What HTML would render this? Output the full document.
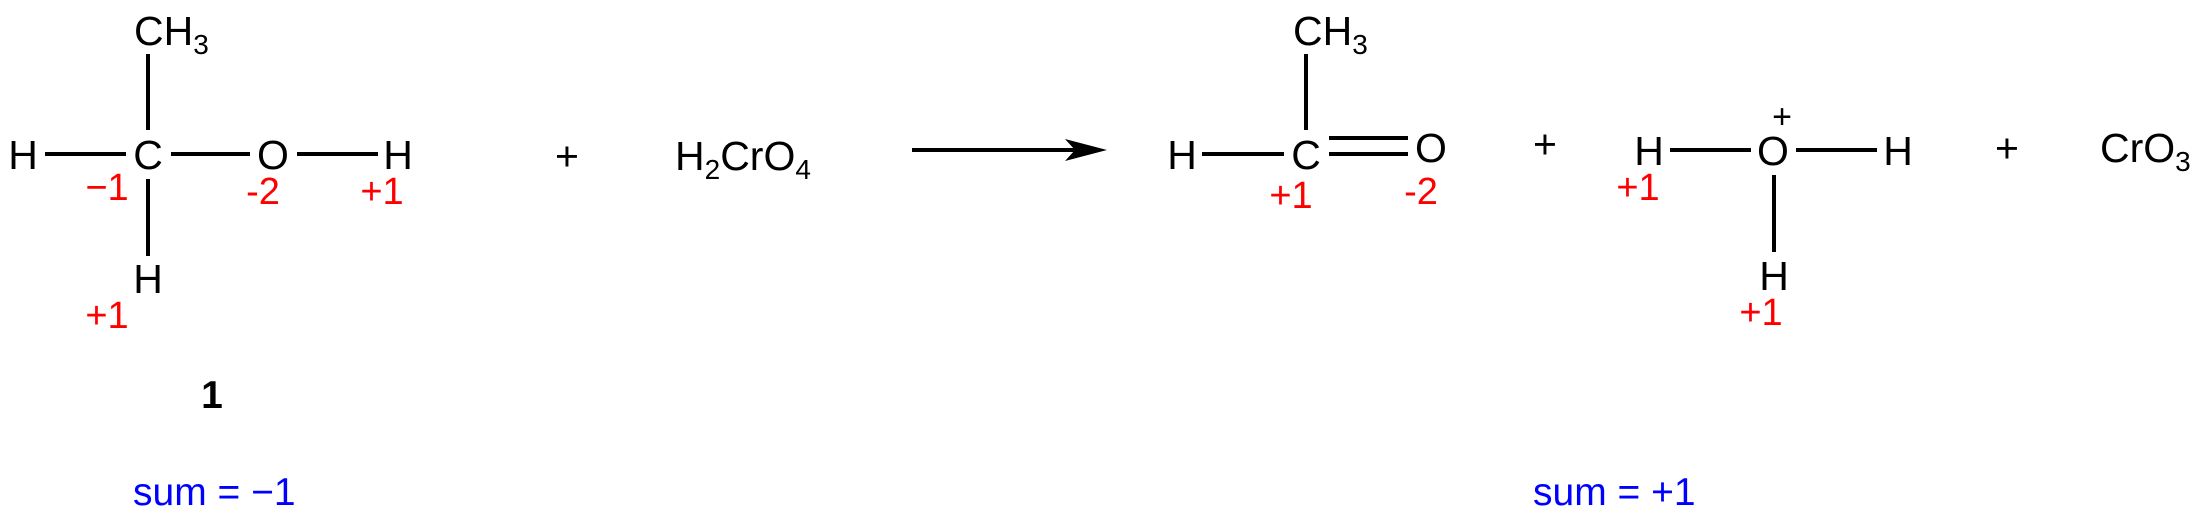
<!DOCTYPE html>
<html><head><style>html,body{margin:0;padding:0;background:#fff}svg{display:block}</style></head>
<body>
<svg width="2203" height="521" viewBox="0 0 2203 521" xmlns="http://www.w3.org/2000/svg" font-family="Liberation Sans, Arial, sans-serif">
<g stroke="#000" stroke-width="4" fill="none">
<line x1="148" y1="54" x2="148" y2="130"/>
<line x1="45" y1="154" x2="126" y2="154"/>
<line x1="171" y1="154" x2="250" y2="154"/>
<line x1="297" y1="154" x2="378" y2="154"/>
<line x1="148" y1="179" x2="148" y2="256"/>
<line x1="912" y1="150" x2="1075" y2="150"/>
<line x1="1306" y1="54" x2="1306" y2="130"/>
<line x1="1202" y1="154" x2="1284" y2="154"/>
<line x1="1329" y1="138" x2="1408" y2="138"/>
<line x1="1329" y1="154" x2="1408" y2="154"/>
<line x1="1670" y1="150" x2="1751" y2="150"/>
<line x1="1796" y1="150" x2="1877" y2="150"/>
<line x1="1774" y1="175" x2="1774" y2="252"/>
</g>
<polygon points="1107,150 1065,139 1075,150 1065,161" fill="#000"/>
<g font-size="41" fill="#000" text-anchor="middle">
<text x="23" y="169">H</text>
<text x="148" y="169">C</text>
<text x="273" y="169">O</text>
<text x="398" y="169">H</text>
<text x="148" y="293">H</text>
<text x="1182" y="169">H</text>
<text x="1306" y="169">C</text>
<text x="1431" y="162">O</text>
<text x="1649" y="165">H</text>
<text x="1773" y="165">O</text>
<text x="1898" y="165">H</text>
<text x="1774" y="290">H</text>
<text x="567" y="170">+</text>
<text x="1545" y="158">+</text>
<text x="2007" y="162">+</text>
<text x="1782" y="128" font-size="34">+</text>
</g>
<g font-size="41" fill="#000">
<text x="134" y="45">CH<tspan font-size="28" dy="9">3</tspan></text>
<text x="1293" y="45">CH<tspan font-size="28" dy="9">3</tspan></text>
<text x="675" y="170">H<tspan font-size="28" dy="9">2</tspan><tspan dy="-9">CrO</tspan><tspan font-size="28" dy="9">4</tspan></text>
<text x="2100" y="162">CrO<tspan font-size="28" dy="9">3</tspan></text>
</g>
<g font-size="38" fill="#ff0000" text-anchor="middle">
<text x="107" y="200">−1</text>
<text x="263" y="204">-2</text>
<text x="382" y="204">+1</text>
<text x="107" y="328">+1</text>
<text x="1291" y="208">+1</text>
<text x="1421" y="204">-2</text>
<text x="1638" y="200">+1</text>
<text x="1761" y="325">+1</text>
</g>
<text x="212" y="408" font-size="39" font-weight="bold" text-anchor="middle">1</text>
<g font-size="39" fill="#0000ff">
<text x="133" y="505">sum = −1</text>
<text x="1533" y="505">sum = +1</text>
</g>
</svg>
</body></html>
